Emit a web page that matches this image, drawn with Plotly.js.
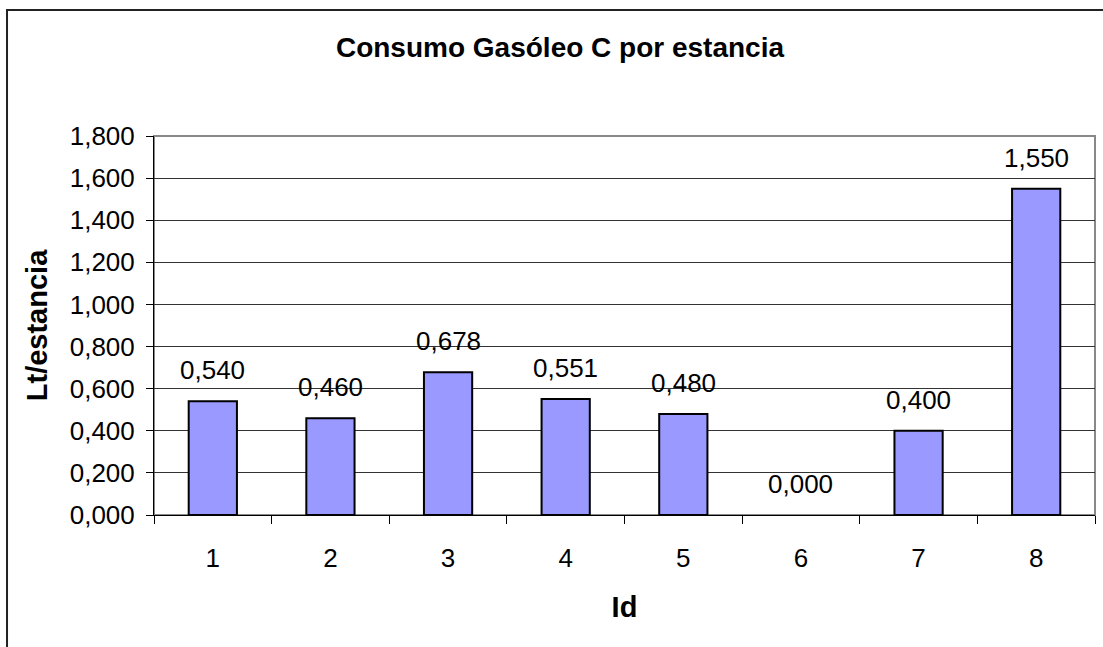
<!DOCTYPE html>
<html>
<head>
<meta charset="utf-8">
<script src="https://cdn.plot.ly/plotly-3.0.1.min.js"></script>
<style>
  body { margin: 0; background: #fff; }
  #chart { width: 1103px; height: 647px; }
</style>
</head>
<body>
<div id="chart"></div>
<script>
// datos
var ids = ['1', '2', '3', '4', '5', '6', '7', '8'];
var consumo = [0.540, 0.460, 0.678, 0.551, 0.480, 0.000, 0.400, 1.550];
var yTicks = [0, 0.2, 0.4, 0.6, 0.8, 1.0, 1.2, 1.4, 1.6, 1.8];

var fuente = 'Liberation Sans, Arial, sans-serif';

var trace = {
    x: ids,
    y: consumo,
    type: 'bar',
    marker: {
        color: '#9999FF',
        // una barra de valor 0 no deja contorno visible
        line: {color: '#000', width: consumo.map(function (v) { return v > 0 ? 2 : 0; })}
    },
    hoverinfo: 'x+y'
};

// etiquetas de valor encima de cada barra (x = índice de categoría)
var etiquetas = ids.map(function (id, i) {
    return {
        x: i, y: consumo[i], xref: 'x', yref: 'y',
        text: consumo[i].toFixed(3).replace('.', ','),
        showarrow: false, yanchor: 'middle', yshift: 31,
        font: {family: fuente, size: 26, color: '#000'}
    };
});

var layout = {
    width: 1103,
    height: 647,
    margin: {l: 154, r: 8, t: 136, b: 132},
    paper_bgcolor: '#fff',
    plot_bgcolor: '#fff',
    separators: ',.',
    showlegend: false,
    bargap: 0.59,
    title: {
        text: '<b>Consumo Gasóleo C por estancia</b>',
        font: {family: fuente, size: 28, color: '#000'},
        x: 0.5077, xanchor: 'center',
        y: 0.927, yanchor: 'middle'
    },
    xaxis: {
        type: 'category',
        range: [-0.5, 7.5],
        showgrid: false,
        showline: true, linecolor: '#000', linewidth: 1,
        ticks: 'outside', tickson: 'boundaries', ticklen: 8, tickcolor: '#000',
        ticklabelstandoff: 20,
        tickfont: {family: fuente, size: 26, color: '#000'},
        title: {text: '<b>Id</b>', standoff: 24, font: {family: fuente, size: 29, color: '#000'}},
        automargin: false
    },
    yaxis: {
        range: [0, 1.8],
        tickvals: yTicks,
        tickformat: '.3f',
        showgrid: true, gridcolor: '#333', gridwidth: 1,
        zeroline: false,
        showline: true, linecolor: '#000', linewidth: 1,
        ticks: 'outside', ticklen: 7, tickcolor: '#000',
        ticklabelstandoff: 6,
        tickfont: {family: fuente, size: 26, color: '#000'},
        title: {text: '<b>Lt/estancia</b>', standoff: 13, font: {family: fuente, size: 29, color: '#000'}},
        automargin: false
    },
    annotations: etiquetas,
    shapes: [
        // borde gris del área de trazado
        {type: 'rect', xref: 'paper', yref: 'paper', x0: 0, x1: 1, y0: 0, y1: 1,
         line: {color: '#888', width: 2}, layer: 'below'},
        // marco exterior del gráfico
        {type: 'rect', xref: 'paper', yref: 'paper', x0: -0.1562, x1: 1.2, y0: -0.5, y1: 1.3325,
         line: {color: '#222', width: 2}}
    ]
};

Plotly.newPlot('chart', [trace], layout, {staticPlot: true});
</script>
</body>
</html>
